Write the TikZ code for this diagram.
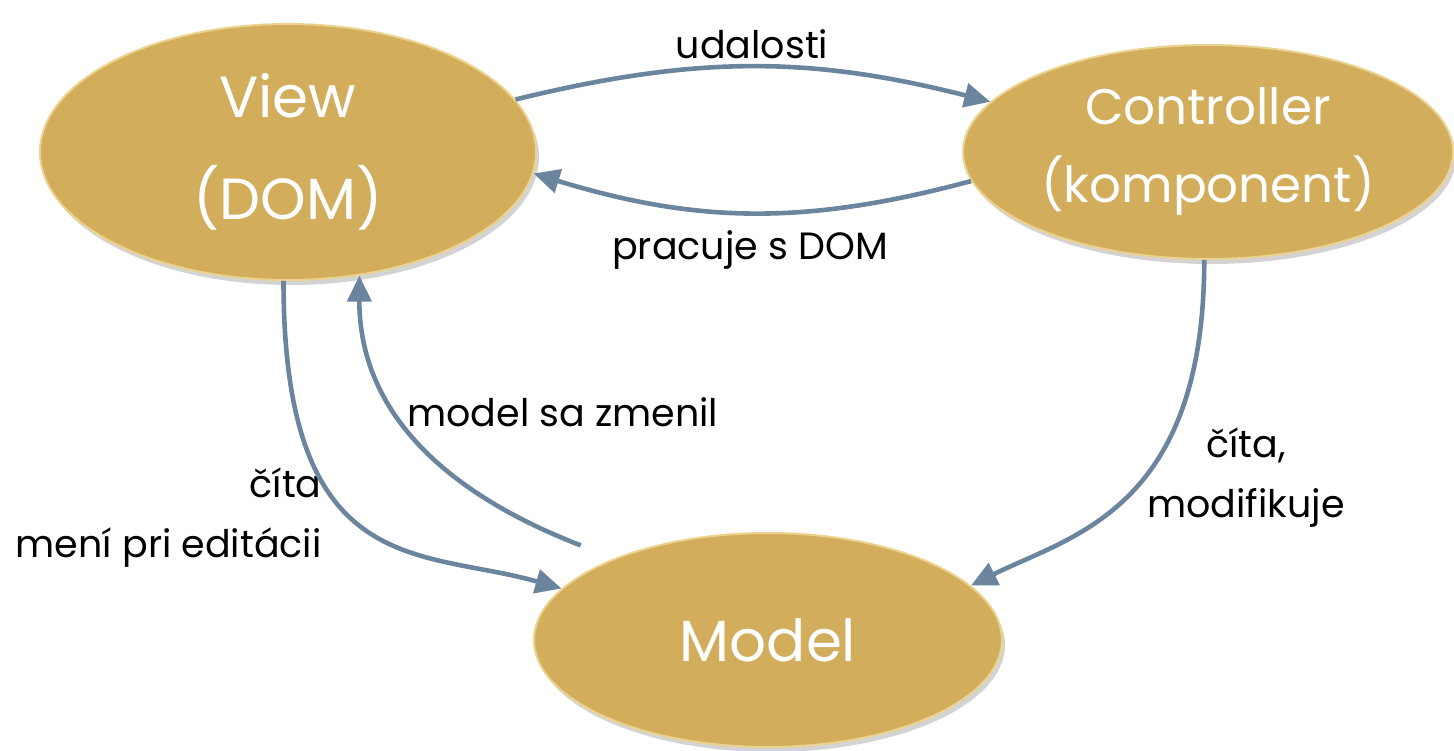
\documentclass[tikz,border=0pt]{standalone}
\usepackage{fontspec}
\setmainfont{Poppins}
\usetikzlibrary{shapes.geometric,arrows.meta,shadows}
\definecolor{gold}{HTML}{D1AD5C}
\definecolor{rim}{HTML}{EBD28E}
\definecolor{slate}{HTML}{6B859E}

\begin{document}
\begin{tikzpicture}[x=0.5pt,y=0.5pt,
    blob/.style={ellipse,fill=gold,draw=rim,line width=1pt,inner sep=0pt,
      text=white,align=center,
      drop shadow={opacity=0.35,shadow xshift=1.5pt,shadow yshift=-2.5pt}},
    link/.style={draw=slate,line width=2.3pt,-{Triangle[length=13pt,width=12pt]}},
    lbl/.style={font=\fontsize{19}{30}\selectfont,inner sep=0pt}]
\useasboundingbox (0,0) rectangle (1454,750);
% the three parts
\node[blob,minimum width=248pt,minimum height=128pt,
  font=\fontsize{29}{51}\selectfont] (view) at (288,598) {View\\(DOM)};
\node[blob,minimum width=245pt,minimum height=107pt,
  font=\fontsize{25}{39}\selectfont] (ctrl) at (1208,598) {Controller\\(komponent)};
\node[blob,minimum width=234pt,minimum height=107pt,
  font=\fontsize{29}{30}\selectfont] (model) at (768,110) {Model};
% labels
\node[lbl] (udalosti) at (752,706) {udalosti};
\node[lbl] (pracuje) at (750,500) {pracuje s DOM};
\node[lbl,anchor=west] (zmenil) at (407,338) {model sa zmenil};
\node[lbl,anchor=east,align=right] (cita) at (322,232) {číta\\mení pri editácii};
\node[lbl,align=center] (modif) at (1246,272) {číta,\\modifikuje};
% arrows
\draw[link] (view.13) to[bend left=14] (ctrl.167);
\draw[link] (ctrl.187) to[bend left=16] (view.355);
\draw[link] (view.268) .. controls +(0,-300) and +(-140,40) .. (model.166);
\draw[link,shorten <=18pt] (model.152) .. controls +(-130,50) and +(0,-160) .. (view.300);
\draw[link] (ctrl.268) .. controls +(0,-250) and +(100,50) .. (model.15);
\end{tikzpicture}
\end{document}
